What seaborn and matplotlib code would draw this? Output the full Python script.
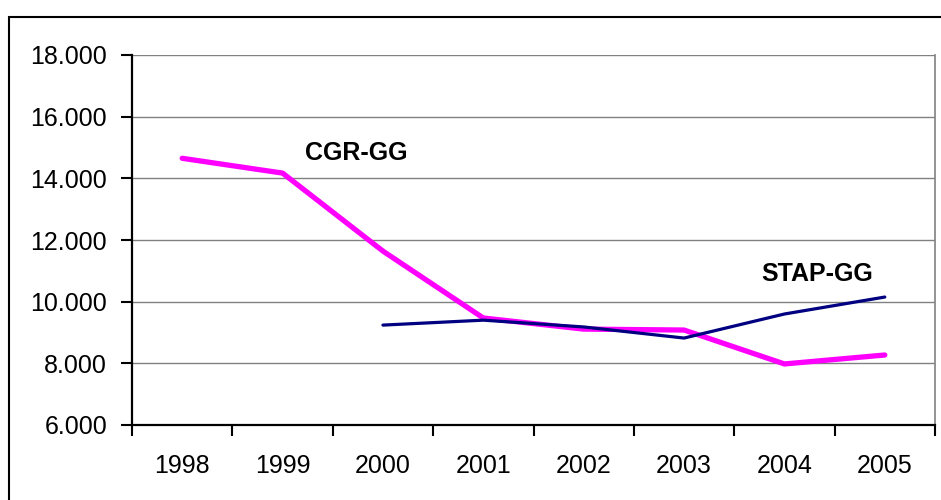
import numpy as np
import pandas as pd
import matplotlib.pyplot as plt
import seaborn as sns
from matplotlib.ticker import FuncFormatter, FixedLocator
from matplotlib.patches import Rectangle

years = ['1998', '1999', '2000', '2001', '2002', '2003', '2004', '2005']
cgr_gg = [14650, 14170, 11640, 9470, 9110, 9080, 7980, 8270]
stap_gg = [np.nan, np.nan, 9240, 9400, 9180, 8820, 9600, 10150]
y_ticks = [6000, 8000, 10000, 12000, 14000, 16000, 18000]

df = pd.DataFrame({'pos': range(len(years)), 'year': years,
                   'CGR-GG': cgr_gg, 'STAP-GG': stap_gg})

sns.set_theme(style='white')
plt.rcParams['font.family'] = ['Liberation Sans', 'DejaVu Sans']
plt.rcParams['text.color'] = 'black'
plt.rcParams['xtick.color'] = 'black'
plt.rcParams['ytick.color'] = 'black'

fig = plt.figure(figsize=(9.41, 5.0), dpi=100)
ax = fig.add_axes([132 / 941, 75 / 500, 803 / 941, 370 / 500])

sns.lineplot(data=df, x='pos', y='CGR-GG', color='#FF00FF', lw=3.8, ax=ax)
sns.lineplot(data=df.dropna(), x='pos', y='STAP-GG', color='#000080', lw=2.3, ax=ax)

ax.set_xlim(-0.5, len(years) - 0.5)
ax.set_ylim(6000, 18000)
ax.set_xlabel('')
ax.set_ylabel('')

ax.set_yticks(y_ticks)
ax.yaxis.set_major_formatter(FuncFormatter(lambda v, p: f'{int(v):,}'.replace(',', '.')))
ax.grid(axis='y', color='#808080', lw=1.0)
ax.set_axisbelow(True)

ax.set_xticks(range(len(years)))
ax.set_xticklabels(years)
ax.xaxis.set_minor_locator(FixedLocator(np.arange(-0.5, len(years), 1.0)))
ax.tick_params(axis='x', which='major', length=0, pad=21, labelsize=18, labelcolor='black')
ax.tick_params(axis='x', which='minor', length=8, width=1.5, color='black', bottom=True)
ax.tick_params(axis='y', which='major', length=8, width=1.5, color='black', left=True,
               pad=10, labelsize=18, labelcolor='black')

for s in ['left', 'bottom']:
    ax.spines[s].set_color('black')
    ax.spines[s].set_linewidth(1.6)
ax.spines['top'].set_visible(False)
ax.spines['right'].set_color('#808080')
ax.spines['right'].set_linewidth(1.2)

ax.text(1.73, 14820, 'CGR-GG', fontsize=18, fontweight='bold', ha='center', va='center',
        color='black')
ax.text(6.33, 10900, 'STAP-GG', fontsize=18, fontweight='bold', ha='center', va='center',
        color='black')

fig.patches.append(Rectangle((9 / 941, -0.01), 940 / 941, 488 / 500, transform=fig.transFigure,
                             fill=False, edgecolor='black', lw=1.5))

fig.savefig('out.png', dpi=100)
